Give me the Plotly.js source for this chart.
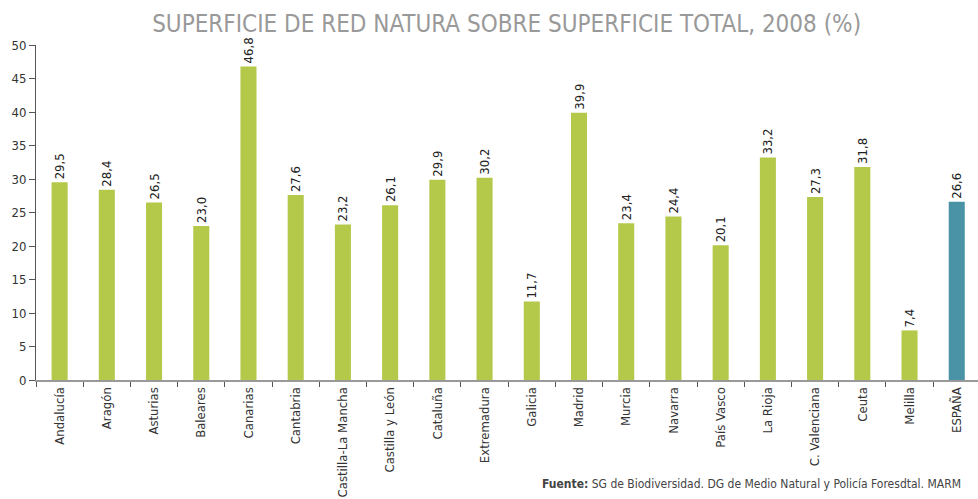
<!DOCTYPE html>
<html><head><meta charset="utf-8">
<script src="https://cdn.plot.ly/plotly-3.0.1.min.js"></script>
<style>html,body{margin:0;padding:0;background:#fff;}#chart{width:978px;height:499px;}</style>
</head><body><div id="chart"></div>
<script>
const categories = ["Andalucía","Aragón","Asturias","Baleares","Canarias","Cantabria","Castilla-La Mancha","Castilla y León","Cataluña","Extremadura","Galicia","Madrid","Murcia","Navarra","País Vasco","La Rioja","C. Valenciana","Ceuta","Melilla","ESPAÑA"];
const values = [29.5,28.4,26.5,23.0,46.8,27.6,23.2,26.1,29.9,30.2,11.7,39.9,23.4,24.4,20.1,33.2,27.3,31.8,7.4,26.6];
const yTicks = [0,5,10,15,20,25,30,35,40,45,50];
const titleText = "SUPERFICIE DE RED NATURA SOBRE SUPERFICIE TOTAL, 2008 (%)";
const sourceText = "<b>Fuente:</b> SG de Biodiversidad. DG de Medio Natural y Policía Foresdtal. MARM";

const FONT = "'DejaVu Sans Condensed', 'Liberation Sans Narrow', Roboto, sans-serif";
const colors = categories.map(c => c === "ESPAÑA" ? "#4a93a6" : "#b4c84a");

const trace = {
  type: "bar",
  x: categories,
  y: values,
  marker: {color: colors},
  texttemplate: "%{y:.1f}",
  textposition: "outside",
  textangle: -90,
  constraintext: "none",
  cliponaxis: false,
  textfont: {family: FONT, size: 13, color: "#222"},
  hoverinfo: "none"
};

const layout = {
  width: 978, height: 499,
  margin: {l: 36, r: 0, t: 45, b: 119},
  paper_bgcolor: "#fff", plot_bgcolor: "#fff",
  separators: ",.",
  bargap: 0.66,
  showlegend: false,
  font: {family: FONT, color: "#333", size: 13},
  title: {text: titleText, x: 0.518, xanchor: "center", y: 0.97, yanchor: "top",
          font: {family: FONT, size: 24, color: "#999999"}},
  xaxis: {
    type: "category", range: [-0.5, 19.45],
    showline: true, linecolor: "#999", linewidth: 2,
    ticks: "outside", tickson: "boundaries", ticklen: 5, tickcolor: "#555", tickwidth: 1,
    tickangle: -90, tickfont: {family: FONT, size: 13, color: "#333"},
    showgrid: false, zeroline: false, fixedrange: true
  },
  yaxis: {
    range: [0, 50], tickvals: yTicks, ticktext: yTicks.map(String),
    showline: true, linecolor: "#555", linewidth: 1,
    ticks: "outside", ticklen: 6, tickcolor: "#555",
    tickfont: {family: FONT, size: 13, color: "#333"},
    showgrid: false, zeroline: false, fixedrange: true
  },
  annotations: [{
    text: sourceText, xref: "paper", yref: "paper", x: 0.535, y: -0.285,
    xanchor: "left", yanchor: "top", showarrow: false,
    font: {family: FONT, size: 12, color: "#444"}
  }]
};

Plotly.newPlot("chart", [trace], layout, {displayModeBar: false, staticPlot: true});
</script></body></html>
